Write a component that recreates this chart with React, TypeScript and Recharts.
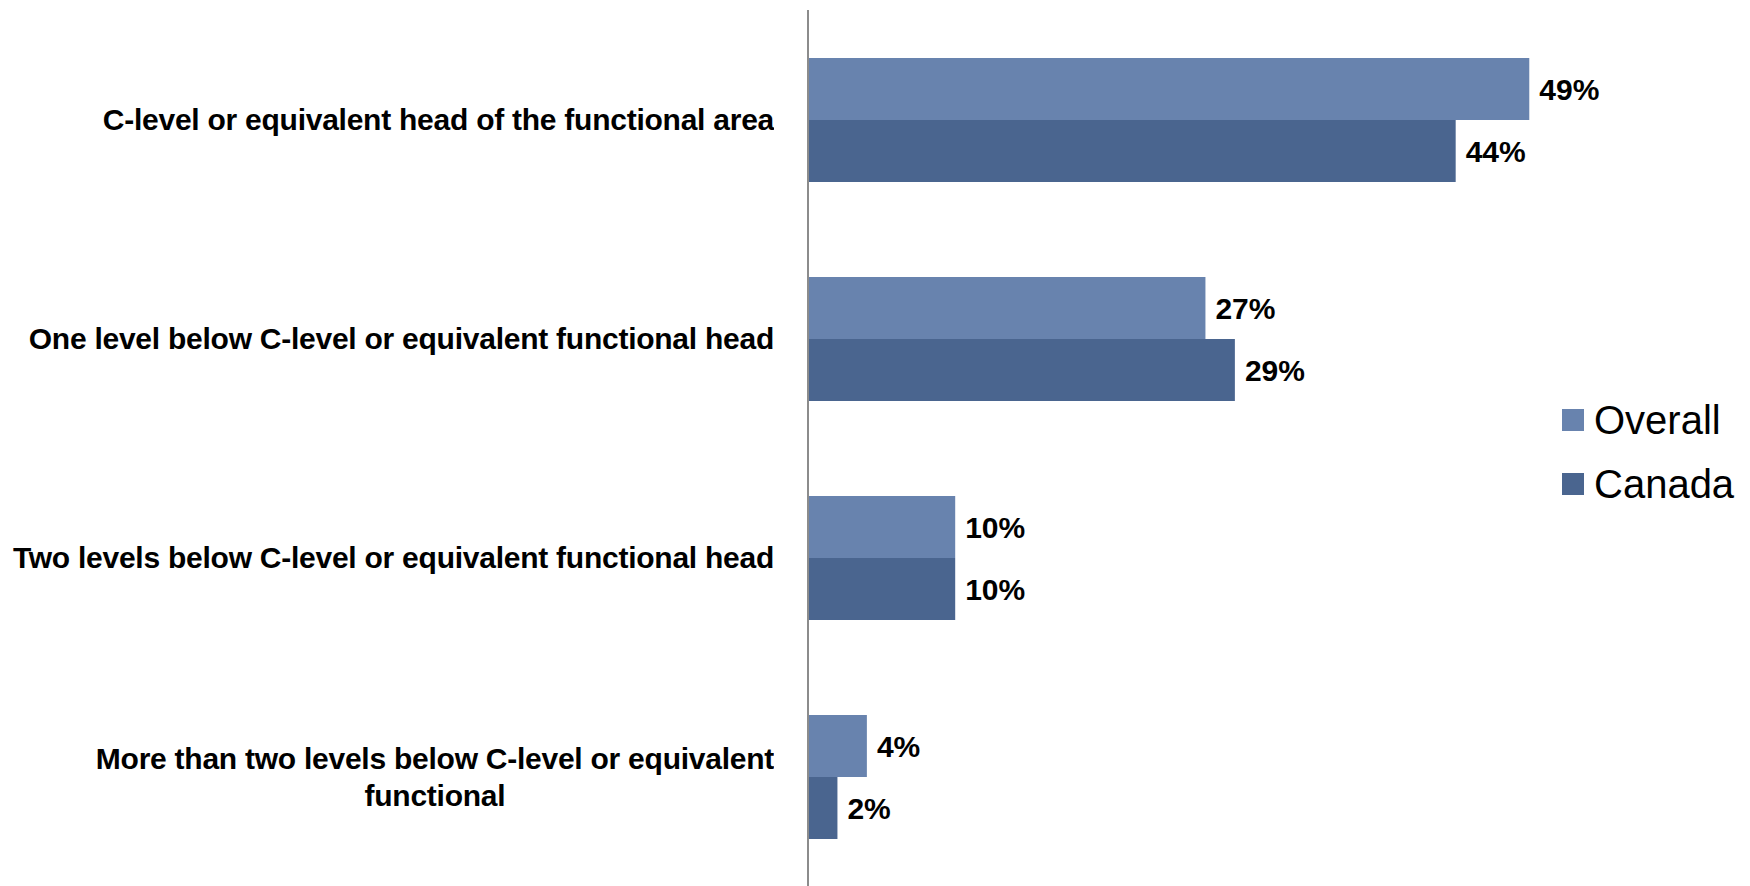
import React from 'react'
import { BarChart, Bar, XAxis, YAxis, LabelList } from 'recharts'

const categories = [
  'C-level or equivalent head of the functional area',
  'One level below C-level or equivalent functional head',
  'Two levels below C-level or equivalent functional head',
  'More than two levels below C-level or equivalent|functional',
]
const overall = [49, 27, 10, 4]
const canada = [44, 29, 10, 2]

const OVERALL_COLOR = '#6883ae'
const CANADA_COLOR = '#4a658f'
const FONT = '"Liberation Sans", Arial, sans-serif'

const series = [
  { key: 'overall', label: 'Overall', color: OVERALL_COLOR },
  { key: 'canada', label: 'Canada', color: CANADA_COLOR },
]

const data = categories.map((name, i) => ({ name, overall: overall[i], canada: canada[i] }))

const labelStyle = { fontFamily: FONT, fontSize: 30, fontWeight: 700, fill: '#000' }

function CategoryTick(props: any) {
  const { x, y, payload } = props
  const lines = String(payload.value).split('|')
  const boxW = 800
  const lineH = 37
  const h = lines.length * lineH
  return (
    <foreignObject x={x - boxW - 26} y={y - h / 2} width={boxW} height={h}>
      <div style={{ display: 'flex', justifyContent: 'flex-end', width: boxW }}>
        <div
          style={{
            display: 'inline-block',
            textAlign: 'center',
            fontFamily: FONT,
            fontSize: 30,
            fontWeight: 700,
            letterSpacing: -0.25,
            lineHeight: `${lineH}px`,
            color: '#000',
            whiteSpace: 'nowrap',
          }}
        >
          {lines.map((l, i) => (
            <div key={i}>{l}</div>
          ))}
        </div>
      </div>
    </foreignObject>
  )
}

export default function App() {
  return (
    <div style={{ position: 'relative', width: 1750, height: 886, background: '#fff' }}>
      <style>{'body{margin:0}'}</style>
      <BarChart
        width={1750}
        height={886}
        data={data}
        layout="vertical"
        margin={{ top: 10, right: 206, bottom: 0, left: 0 }}
        barGap={0}
        barSize={62}
      >
        <XAxis type="number" domain={[0, 50]} hide />
        <YAxis
          type="category"
          dataKey="name"
          width={808}
          axisLine={{ stroke: '#8c8c8c', strokeWidth: 2 }}
          tickLine={false}
          tick={<CategoryTick />}
        />
        {series.map((s) => (
          <Bar key={s.key} dataKey={s.key} name={s.label} fill={s.color} isAnimationActive={false}>
            <LabelList dataKey={s.key} position="right" offset={10} formatter={(v: any) => `${v}%`} style={labelStyle} />
          </Bar>
        ))}
      </BarChart>
      <div style={{ position: 'absolute', left: 1562, top: 388, fontFamily: FONT }}>
        {series.map((s) => (
          <div key={s.key} style={{ display: 'flex', alignItems: 'center', height: 64 }}>
            <span style={{ width: 22, height: 22, background: s.color, marginRight: 10, display: 'inline-block' }} />
            <span style={{ fontSize: 40, color: '#000' }}>{s.label}</span>
          </div>
        ))}
      </div>
    </div>
  )
}
